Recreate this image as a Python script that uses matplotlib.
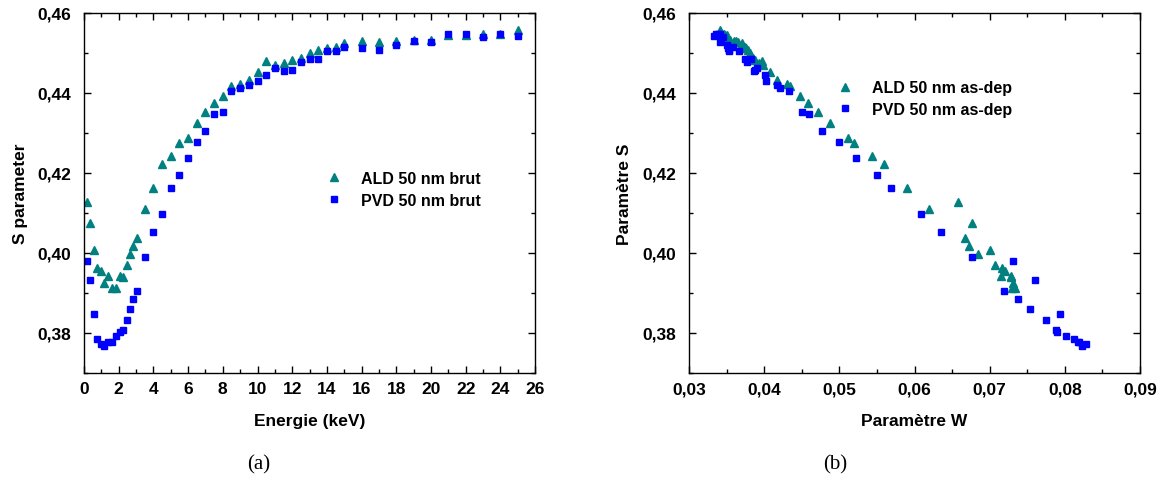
#!/usr/bin/env python

import matplotlib
matplotlib.use('Agg')
import matplotlib.pyplot as plt
from matplotlib.ticker import MultipleLocator, FuncFormatter

# energies (keV), same for both samples
energie = [0.2, 0.35, 0.55, 0.75, 0.95, 1.15, 1.4, 1.6, 1.85, 2.05, 2.25,
           2.45, 2.65, 2.85, 3.05, 3.5, 4, 4.5, 5, 5.5, 6, 6.5, 7, 7.5, 8,
           8.5, 9, 9.5, 10, 10.5, 11, 11.5, 12, 12.5, 13, 13.5, 14, 14.5, 15,
           16, 17, 18, 19, 20, 21, 22, 23, 24, 25]

s_ald = [0.4127, 0.4075, 0.4007, 0.3963, 0.3955, 0.3925, 0.3942, 0.3913,
         0.3912, 0.3942, 0.3940, 0.3970, 0.3998, 0.4017, 0.4037, 0.4110,
         0.4163, 0.4222, 0.4242, 0.4275, 0.4288, 0.4325, 0.4352, 0.4375,
         0.4393, 0.4417, 0.4423, 0.4433, 0.4453, 0.4480, 0.4470, 0.4475,
         0.4483, 0.4487, 0.4499, 0.4508, 0.4512, 0.4516, 0.4524, 0.4531,
         0.4527, 0.4531, 0.4533, 0.4533, 0.4545, 0.4545, 0.4548, 0.4548,
         0.4557]

s_pvd = [0.3980, 0.3933, 0.3848, 0.3785, 0.3772, 0.3768, 0.3777, 0.3777,
         0.3793, 0.3803, 0.3807, 0.3833, 0.3860, 0.3885, 0.3905, 0.3990,
         0.4053, 0.4097, 0.4163, 0.4195, 0.4238, 0.4278, 0.4306, 0.4348,
         0.4353, 0.4406, 0.4412, 0.4420, 0.4431, 0.4444, 0.4463, 0.4455,
         0.4457, 0.4478, 0.4484, 0.4486, 0.4505, 0.4506, 0.4514, 0.4513,
         0.4508, 0.4520, 0.4529, 0.4528, 0.4548, 0.4548, 0.4540, 0.4547,
         0.4543]

w_ald = [0.0658, 0.0676, 0.0700, 0.0716, 0.0721, 0.0731, 0.0728, 0.0734,
         0.0730, 0.0715, 0.0728, 0.0707, 0.0685, 0.0673, 0.0667, 0.0619,
         0.0590, 0.0560, 0.0544, 0.0520, 0.0512, 0.0488, 0.0472, 0.0458,
         0.0448, 0.0435, 0.0430, 0.0417, 0.0408, 0.0397, 0.0399, 0.0393,
         0.0388, 0.0385, 0.0381, 0.0379, 0.0376, 0.0374, 0.0370, 0.0363,
         0.0365, 0.0360, 0.0355, 0.0352, 0.0350, 0.0348, 0.0346, 0.0344,
         0.0341]

w_pvd = [0.0731, 0.0760, 0.0793, 0.0812, 0.0828, 0.0823, 0.0817, 0.0819,
         0.0802, 0.0789, 0.0788, 0.0775, 0.0754, 0.0738, 0.0719, 0.0676,
         0.0635, 0.0608, 0.0569, 0.0550, 0.0522, 0.0500, 0.0477, 0.0460,
         0.0450, 0.0433, 0.0421, 0.0417, 0.0403, 0.0401, 0.0390, 0.0387,
         0.0388, 0.0377, 0.0374, 0.0383, 0.0366, 0.0353, 0.0358, 0.0352,
         0.0353, 0.0351, 0.0342, 0.0341, 0.0341, 0.0338, 0.0345, 0.0336,
         0.0333]

TEAL = '#008080'
BLUE = '#0000ff'

plt.rcParams['font.family'] = ['Liberation Sans', 'DejaVu Sans']
plt.rcParams['font.weight'] = 'bold'


def comma(fmt):
    return FuncFormatter(lambda v, p: (fmt % v).replace('.', ','))


def style_ax(ax):
    ax.tick_params(which='both', direction='in', top=True, right=True,
                   labelsize=12.5, width=1)
    ax.tick_params(which='major', length=5)
    ax.tick_params(which='minor', length=3)
    ax.tick_params(axis='x', which='major', pad=6)
    ax.tick_params(axis='y', which='major', pad=9)
    for sp in ax.spines.values():
        sp.set_linewidth(1.0)
    for lab in ax.get_xticklabels() + ax.get_yticklabels():
        lab.set_fontweight('bold')


fig = plt.figure(figsize=(11.67, 4.81), dpi=100)
ax1 = fig.add_axes([0.072, 0.2225, 0.3865, 0.7484])
ax2 = fig.add_axes([0.5904, 0.2225, 0.3865, 0.7484])

# (a) S vs energy
ax1.plot(energie, s_ald, linestyle='none', marker='^', ms=6,
         color=TEAL, label='ALD 50 nm brut')
ax1.plot(energie, s_pvd, linestyle='none', marker='s', ms=4.5,
         color=BLUE, label='PVD 50 nm brut')
ax1.set_xlim(0, 26)
ax1.set_ylim(0.37, 0.46)
ax1.xaxis.set_major_locator(MultipleLocator(2))
ax1.xaxis.set_minor_locator(MultipleLocator(1))
ax1.yaxis.set_major_locator(MultipleLocator(0.02))
ax1.yaxis.set_minor_locator(MultipleLocator(0.01))
ax1.yaxis.set_major_formatter(comma('%.2f'))
ax1.set_xlabel('Energie (keV)', fontsize=12.5, fontweight='bold',
               labelpad=12)
ax1.set_ylabel('S parameter', fontsize=12.5, fontweight='bold', labelpad=7)
style_ax(ax1)
ax1.legend(loc='center left', bbox_to_anchor=(0.505, 0.51), frameon=False,
           handlelength=1.0, handletextpad=1.2, labelspacing=0.45,
           prop={'weight': 'bold', 'size': 11.5})

# (b) S vs W
ax2.plot(w_ald, s_ald, linestyle='none', marker='^', ms=6,
         color=TEAL, label='ALD 50 nm as-dep')
ax2.plot(w_pvd, s_pvd, linestyle='none', marker='s', ms=4.5,
         color=BLUE, label='PVD 50 nm as-dep')
ax2.set_xlim(0.03, 0.09)
ax2.set_ylim(0.37, 0.46)
ax2.xaxis.set_major_locator(MultipleLocator(0.01))
ax2.xaxis.set_minor_locator(MultipleLocator(0.005))
ax2.yaxis.set_major_locator(MultipleLocator(0.02))
ax2.yaxis.set_minor_locator(MultipleLocator(0.01))
ax2.xaxis.set_major_formatter(comma('%.2f'))
ax2.yaxis.set_major_formatter(comma('%.2f'))
ax2.set_xlabel('Paramètre W', fontsize=12.5, fontweight='bold',
               labelpad=12)
ax2.set_ylabel('Paramètre S', fontsize=12.5, fontweight='bold', labelpad=8)
style_ax(ax2)
ax2.legend(loc='center left', bbox_to_anchor=(0.297, 0.762), frameon=False,
           handlelength=1.0, handletextpad=1.2, labelspacing=0.4,
           prop={'weight': 'bold', 'size': 11.5})

fig.text(259 / 1167, 1 - 465 / 481, '(a)', ha='center', va='center',
         fontsize=15, family='Liberation Serif', fontweight='normal')
fig.text(835 / 1167, 1 - 465 / 481, '(b)', ha='center', va='center',
         fontsize=15, family='Liberation Serif', fontweight='normal')

plt.savefig('out.png', dpi=100)
plt.close()
